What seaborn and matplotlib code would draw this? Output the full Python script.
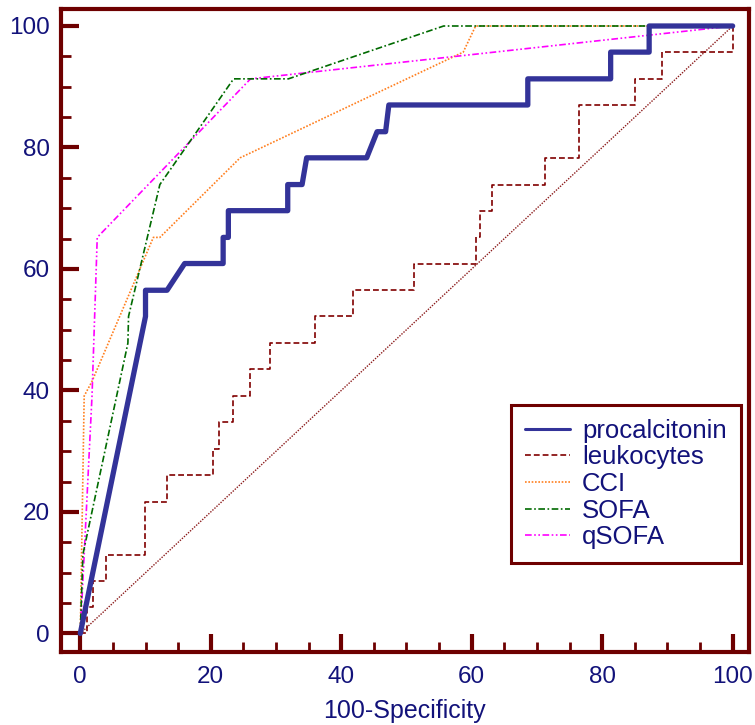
import numpy as np
import pandas as pd
import matplotlib
matplotlib.use('Agg')
import matplotlib.pyplot as plt
from matplotlib.ticker import MultipleLocator
import seaborn as sns

sns.set_style('white')
plt.rcParams['font.family'] = ['Liberation Sans', 'DejaVu Sans']

# ROC-кривые (100-специфичность, чувствительность), вершины
names = ['procalcitonin', 'leukocytes', 'CCI', 'SOFA', 'qSOFA']

pct_x = [0, 10.0, 10.0, 13.3, 16.0, 21.9, 21.9, 22.7, 22.7, 31.8, 31.8, 34.0, 34.7,
         43.9, 45.5, 46.8, 47.3, 68.6, 68.6, 81.3, 81.3, 87.2, 87.2, 100]
pct_y = [0, 52.2, 56.5, 56.5, 60.9, 60.9, 65.2, 65.2, 69.6, 69.6, 73.9, 73.9, 78.3,
         78.3, 82.6, 82.6, 87.0, 87.0, 91.3, 91.3, 95.7, 95.7, 100, 100]

leu_x = [0, 1.1, 1.1, 2.0, 2.0, 4.0, 4.0, 9.9, 9.9, 13.3, 13.3, 20.4, 20.4, 21.2, 21.2,
         23.4, 23.4, 26.0, 26.0, 29.1, 29.1, 36.0, 36.0, 41.8, 41.8, 51.2, 51.2, 60.6,
         60.6, 61.2, 61.2, 63.1, 63.1, 71.2, 71.2, 76.4, 76.4, 85.1, 85.1, 89.2, 89.2,
         100, 100]
leu_y = [0, 0, 4.35, 4.35, 8.7, 8.7, 13.0, 13.0, 21.7, 21.7, 26.1, 26.1, 30.4, 30.4,
         34.8, 34.8, 39.1, 39.1, 43.5, 43.5, 47.8, 47.8, 52.2, 52.2, 56.5, 56.5, 60.9,
         60.9, 65.2, 65.2, 69.6, 69.6, 73.9, 73.9, 78.3, 78.3, 87.0, 87.0, 91.3, 91.3,
         95.7, 95.7, 100]

cci_x = [0, 0.6, 1.8, 11.2, 12.2, 24.5, 58.7, 60.6, 100]
cci_y = [0, 39.1, 41.5, 65.2, 65.2, 78.3, 95.7, 100, 100]

sofa_x = [0, 0.4, 7.3, 7.4, 12.2, 23.5, 31.9, 55.7, 100]
sofa_y = [0, 13.0, 47.8, 52.2, 73.9, 91.3, 91.3, 100, 100]

qsofa_x = [0, 1.8, 2.6, 26.1, 100]
qsofa_y = [0, 39.1, 65.2, 91.3, 100]

diag_x = [0, 100]
diag_y = [0, 100]

curves = {
    'procalcitonin': (pct_x, pct_y),
    'leukocytes': (leu_x, leu_y),
    'CCI': (cci_x, cci_y),
    'SOFA': (sofa_x, sofa_y),
    'qSOFA': (qsofa_x, qsofa_y),
}

colors = {'procalcitonin': '#333399', 'leukocytes': '#800000', 'CCI': '#FF7F1E',
          'SOFA': '#006A00', 'qSOFA': '#FF00FF'}
styles = {'procalcitonin': '-', 'leukocytes': (0, (3.5, 1.8)), 'CCI': (0, (1, 1)),
          'SOFA': (0, (4, 1.5, 1, 1.5)), 'qSOFA': (0, (4, 1.5, 1, 1.5, 1, 1.5))}
widths = {'procalcitonin': 3.8, 'leukocytes': 1.2, 'CCI': 1.2, 'SOFA': 1.2, 'qSOFA': 1.2}
zorders = {'procalcitonin': 6, 'leukocytes': 5, 'CCI': 3, 'SOFA': 4, 'qSOFA': 3}

dark = '#6E0000'
navy = '#12127A'

fig = plt.figure(figsize=(7.55, 7.25), dpi=100)
ax = fig.add_axes([0.0804, 0.1011, 0.9116, 0.8865])

sns.lineplot(x=diag_x, y=diag_y, ax=ax, color='#8B1A1A', lw=1.0,
             linestyle=(0, (1, 1)), zorder=2)
for n in names:
    cx, cy = curves[n]
    d = pd.DataFrame({'fpr': cx, 'tpr': cy})
    sns.lineplot(data=d, x='fpr', y='tpr', ax=ax, sort=False, estimator=None,
                 color=colors[n], lw=widths[n], linestyle=styles[n],
                 label=n, zorder=zorders[n])

ax.set_xlim(-3, 102.5)
ax.set_ylim(-3, 102.8)
ax.xaxis.set_major_locator(MultipleLocator(20))
ax.yaxis.set_major_locator(MultipleLocator(20))
ax.xaxis.set_minor_locator(MultipleLocator(5))
ax.yaxis.set_minor_locator(MultipleLocator(5))

for s in ax.spines.values():
    s.set_color(dark)
    s.set_linewidth(3)
ax.tick_params(which='both', bottom=True, left=True, top=False, right=False)
ax.tick_params(which='major', direction='in', length=13, width=3, color=dark,
               labelsize=17.5, labelcolor=navy, pad=10)
ax.tick_params(which='minor', direction='in', length=7, width=2, color=dark)
ax.tick_params(axis='y', which='both', pad=8)

ax.set_xlabel('100-Specificity', fontsize=18, color=navy, labelpad=8)
ax.set_ylabel('')

leg = ax.legend(loc='lower right', bbox_to_anchor=(0.988, 0.1375), borderaxespad=0,
                fontsize=18.5, frameon=True, fancybox=False, framealpha=1,
                handlelength=1.75, handletextpad=0.45, labelspacing=0.1,
                borderpad=0.55)
leg.get_frame().set_edgecolor(dark)
leg.get_frame().set_linewidth(2.2)
for t in leg.get_texts():
    t.set_color(navy)
for h in leg.get_lines():
    h.set_linewidth(1.2 if h.get_label() != 'procalcitonin' else 2.2)

fig.savefig('out.png', dpi=100)
